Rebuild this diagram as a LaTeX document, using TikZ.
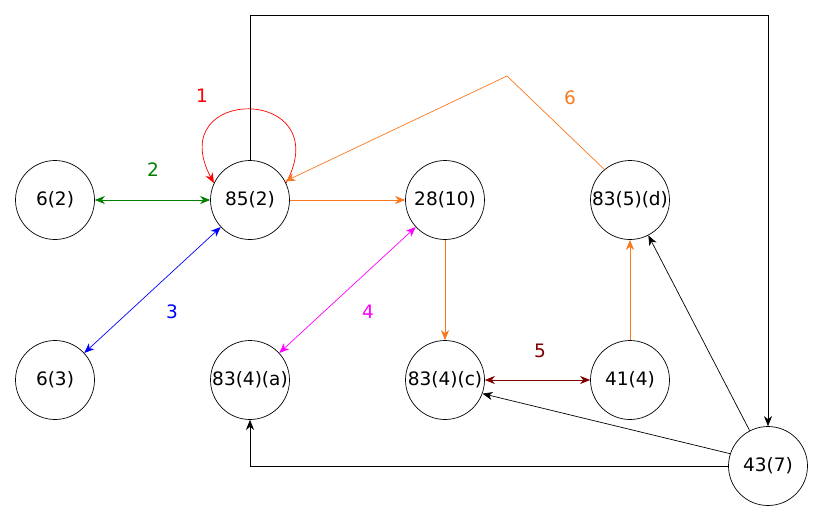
\documentclass[tikz,border=0pt]{standalone}
\usepackage{fontspec}
\setmainfont{DejaVu Sans}
\usetikzlibrary{arrows.meta}
\definecolor{edgeorange}{RGB}{250,120,30}
\definecolor{edgegreen}{RGB}{0,128,0}
\definecolor{edgemaroon}{RGB}{128,0,0}
\definecolor{edgemagenta}{RGB}{255,0,255}
\tikzset{tip/.tip={Stealth[length=10pt,width=8pt,inset=3pt]}}
\begin{document}
\begin{tikzpicture}[x=1pt,y=-1pt,
  vertex/.style={circle,draw,line width=0.7pt,minimum size=79pt,inner sep=0pt,font=\fontsize{18.5}{22}\selectfont},
  link/.style={line width=0.7pt,-tip},
  both/.style={line width=0.7pt,tip-tip},
  tag/.style={font=\fontsize{18.5}{22}\selectfont}]
\useasboundingbox (0,0) rectangle (824,523);
% vertices
\node[vertex] (a) at (55,200) {6(2)};
\node[vertex] (b) at (250,200) {85(2)};
\node[vertex] (c) at (445,200) {28(10)};
\node[vertex] (d) at (630,200) {83(5)(d)};
\node[vertex] (e) at (55,380) {6(3)};
\node[vertex] (f) at (250,380) {83(4)(a)};
\node[vertex] (g) at (445,380) {83(4)(c)};
\node[vertex] (h) at (630,380) {41(4)};
\node[vertex] (k) at (768,466) {43(7)};
% self loop
\draw[link,red] (b.25) .. controls (338,85) and (162,85) .. (b.155);
\node[tag,red] (t1) at (202,96) {1};
% coloured edges
\draw[both,edgegreen] (a) -- (b);
\node[tag,edgegreen] (t2) at (153,170) {2};
\draw[both,blue] (b) -- (e);
\node[tag,blue] (t3) at (172,312) {3};
\draw[link,edgeorange] (b) -- (c);
\draw[both,edgemagenta] (c) -- (f);
\node[tag,edgemagenta] (t4) at (368,312) {4};
\draw[link,edgeorange] (c) -- (g);
\draw[both,edgemaroon] (g) -- (h);
\node[tag,edgemaroon] (t5) at (540,351) {5};
\draw[link,edgeorange] (h) -- (d);
\coordinate (peak) at (507,76);
\draw[link,edgeorange] (d.130) -- (peak) -- (b.28);
\node[tag,edgeorange] (t6) at (570,98) {6};
% black edges
\draw[link] (b.north) -- (250,15) -| (k.north);
\draw[link] (k) -- (d);
\draw[link] (k.162) -- (g.-20);
\draw[link] (k.west) -| (f.south);
\end{tikzpicture}
\end{document}
